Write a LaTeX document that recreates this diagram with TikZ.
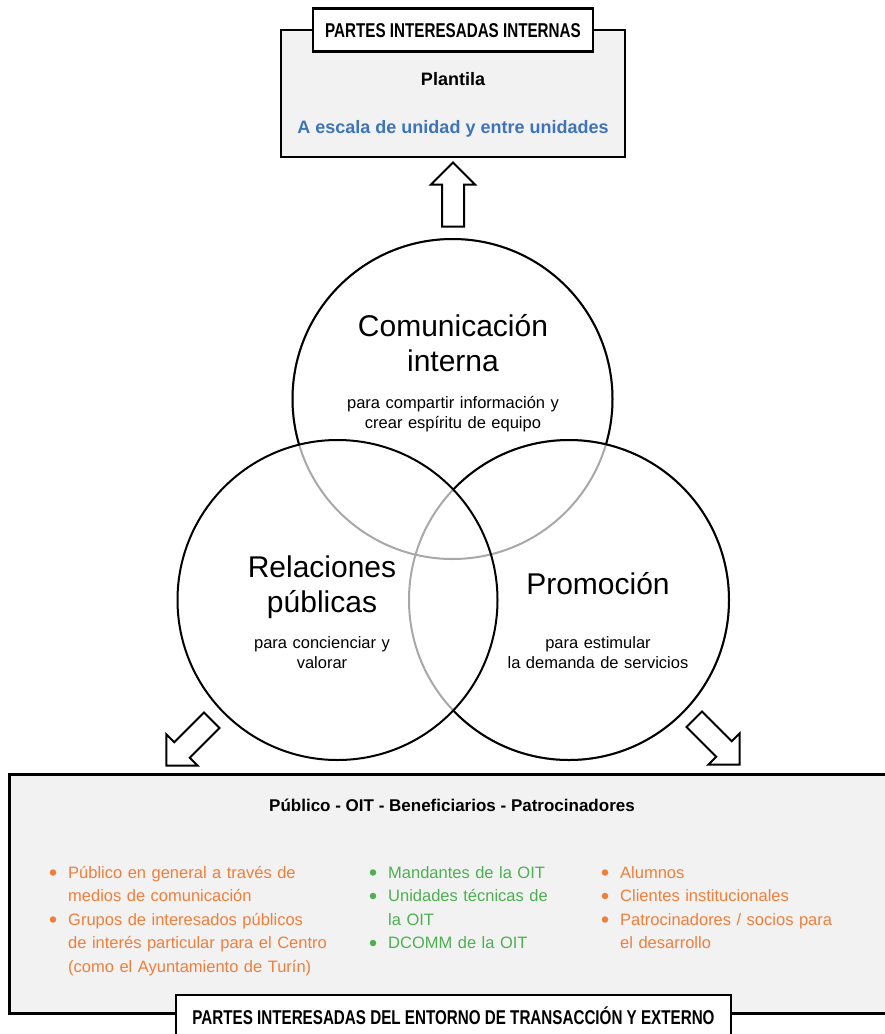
\documentclass[tikz,border=0pt]{standalone}
\usepackage{fontspec}
\setmainfont{Liberation Sans}
\newfontfamily\condfont[FakeStretch=0.76]{Liberation Sans}
\usetikzlibrary{shapes.arrows}
\definecolor{boxgray}{HTML}{F2F2F2}
\definecolor{circgray}{HTML}{A8A8A8}
\definecolor{itcblue}{HTML}{3F74B8}
\definecolor{itcorange}{HTML}{EE7F3B}
\definecolor{itcgreen}{HTML}{4DAF51}
\tikzset{
  headbox/.style={draw, line width=2.5pt, fill=white, inner sep=0pt,
    text height=14pt, text depth=0pt,
    font=\condfont\bfseries\fontsize{20}{24}\selectfont},
  bigtxt/.style={anchor=base, text width=300pt, align=center, inner sep=0pt,
    font=\fontsize{30}{35}\selectfont},
  smalltxt/.style={anchor=base, text width=300pt, align=center, inner sep=0pt,
    font=\fontsize{16.5}{20}\selectfont},
  listtxt/.style={anchor=base west, text width=300pt, align=left, inner sep=0pt,
    font=\fontsize{16.5}{23.5}\selectfont},
  bul/.style={circle, fill, inner sep=0pt, minimum size=6.5pt},
  blockarrow/.style={single arrow, draw, line width=2pt, fill=white,
    minimum height=64pt, inner sep=10pt, single arrow head extend=11pt,
    single arrow tip angle=90}
}
\begin{document}
\begin{tikzpicture}[x=1pt, y=-1pt]
    \useasboundingbox (0,0) rectangle (885,1034);
    %% internal stakeholders panel
    \draw[fill=boxgray, line width=2.5pt] (281,30) rectangle (625,157);
    \node[headbox, minimum width=280pt, minimum height=43pt] (intHead) at (453,30) {PARTES INTERESADAS INTERNAS};
    \node[anchor=base, font=\bfseries\fontsize{18}{22}\selectfont] (staff) at (453,85) {Plantila};
    \node[anchor=base, text=itcblue, font=\bfseries\fontsize{18}{22}\selectfont] (scope) at (453,133) {A escala de unidad y entre unidades};
    %% external panel (runs off the right edge)
    \fill[boxgray] (9.5,774.5) rectangle (900,1013.5);
    \draw[line width=3pt] (900,774.5) -- (9.5,774.5) -- (9.5,1013.5) -- (900,1013.5);
    \node[headbox, minimum width=555pt, minimum height=44pt] (extHead) at (453.5,1017) {PARTES INTERESADAS DEL ENTORNO DE TRANSACCIÓN Y EXTERNO};
    \node[anchor=base, font=\bfseries\fontsize{17}{21}\selectfont] (extTitle) at (452,811) {Público - OIT - Beneficiarios - Patrocinadores};
    %% three circles: grey where covered, black elsewhere
    \coordinate (cT) at (452.5,399);
    \coordinate (cL) at (337.5,600);
    \coordinate (cR) at (569,600);
    \draw[circgray, line width=2pt] (cT) circle (160pt);
    \draw[circgray, line width=2pt] (cR) circle (160pt);
    \draw[line width=2pt] (cL) circle (160pt);
    \begin{scope}[even odd rule]
        \clip (-20,-20) rectangle (905,1054) (cL) circle (160pt);
        \draw[line width=2pt] (cR) circle (160pt);
        \begin{scope}[even odd rule]
            \clip (-20,-20) rectangle (905,1054) (cR) circle (160pt);
            \draw[line width=2pt] (cT) circle (160pt);
        \end{scope}
    \end{scope}
    %% circle texts
    \node[bigtxt] (comTitle) at (453,336) {Comunicación\\interna};
    \node[smalltxt] (comText) at (453,408) {para compartir información y\\crear espíritu de equipo};
    \node[bigtxt] (relTitle) at (322,577) {Relaciones\\públicas};
    \node[smalltxt] (relText) at (322,648) {para concienciar y\\valorar};
    \node[bigtxt] (proTitle) at (598,594) {Promoción};
    \node[smalltxt] (proText) at (598,648) {para estimular\\la demanda de servicios};
    %% block arrows
    \node[blockarrow, rotate=90] (upArrow) at (453,200) {};
    \node[blockarrow, rotate=225] (leftArrow) at (193,739) {};
    \node[blockarrow, rotate=-45] (rightArrow) at (713,738) {};
    %% lists
    \node[bul, itcorange] (b1) at (53,872.5) {};
    \node[listtxt, text=itcorange] (pub1) at (68,878) {Público en general a través de\\medios de comunicación};
    \node[bul, itcorange] (b2) at (53,919.5) {};
    \node[listtxt, text=itcorange] (pub2) at (68,925) {Grupos de interesados públicos\\de interés particular para el Centro\\(como el Ayuntamiento de Turín)};
    \node[bul, itcgreen] (b3) at (373,872.5) {};
    \node[listtxt, text=itcgreen] (oit1) at (388,878) {Mandantes de la OIT};
    \node[bul, itcgreen] (b4) at (373,896) {};
    \node[listtxt, text=itcgreen] (oit2) at (388,901.5) {Unidades técnicas de\\la OIT};
    \node[bul, itcgreen] (b5) at (373,943) {};
    \node[listtxt, text=itcgreen] (oit3) at (388,948.5) {DCOMM de la OIT};
    \node[bul, itcorange] (b6) at (605,872.5) {};
    \node[listtxt, text=itcorange] (cli1) at (620,878) {Alumnos};
    \node[bul, itcorange] (b7) at (605,896) {};
    \node[listtxt, text=itcorange] (cli2) at (620,901.5) {Clientes institucionales};
    \node[bul, itcorange] (b8) at (605,919.5) {};
    \node[listtxt, text=itcorange] (cli3) at (620,925) {Patrocinadores / socios para\\el desarrollo};
\end{tikzpicture}
\end{document}
